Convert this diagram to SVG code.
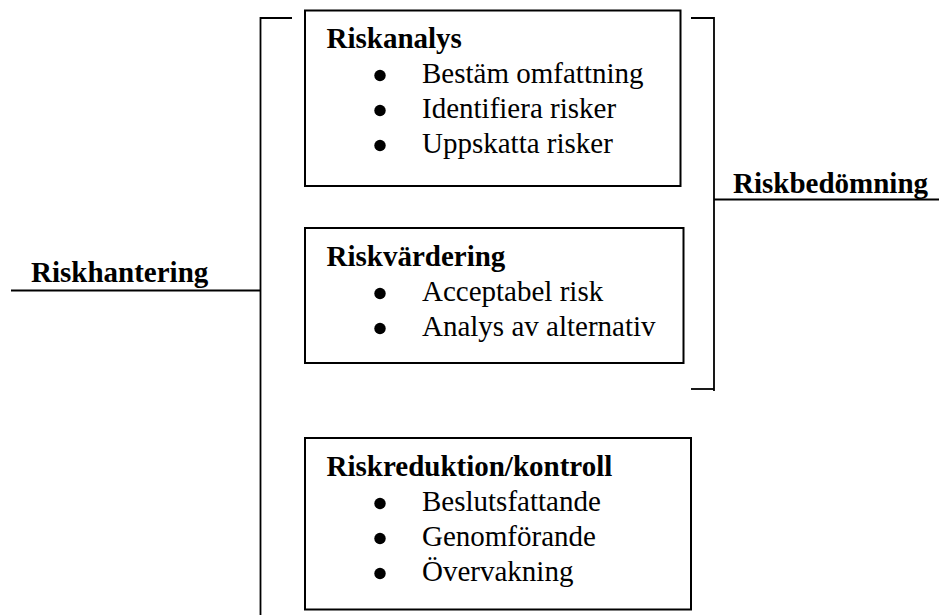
<svg xmlns="http://www.w3.org/2000/svg" width="939" height="615" viewBox="0 0 939 615">
<style>
.box{fill:#fff;stroke:#000;stroke-width:2}
.ln{fill:none;stroke:#000;stroke-width:1.8}
.h{font-family:"Liberation Serif","Times New Roman",serif;font-weight:bold;font-size:29px;fill:#000}
.t{font-family:"Liberation Serif","Times New Roman",serif;font-size:29px;fill:#000}
.b{fill:#000}
</style>
<rect width="939" height="615" fill="#fff"/>
<g id="connectors">
<polyline class="ln" points="292,18 260.5,18 260.5,615"/>
<line class="ln" x1="11" y1="290.5" x2="260.5" y2="290.5"/>
<polyline class="ln" points="691,18 714,18 714,391"/>
<line class="ln" x1="691" y1="389" x2="714" y2="389"/>
<line class="ln" x1="714" y1="199.5" x2="939" y2="199.5"/>
</g>
<g id="riskhantering">
<text class="h" x="31" y="282">Riskhantering</text>
</g>
<g id="riskbedomning">
<text class="h" x="733" y="193">Riskbedömning</text>
</g>
<g id="riskanalys">
<rect class="box" x="305" y="10.5" width="375.5" height="175.5"/>
<text class="h" x="326.5" y="48">Riskanalys</text>
<circle class="b" cx="380" cy="75.5" r="5.7"/>
<text class="t" x="422" y="83">Bestäm omfattning</text>
<circle class="b" cx="380" cy="110.5" r="5.7"/>
<text class="t" x="422" y="118">Identifiera risker</text>
<circle class="b" cx="380" cy="145.5" r="5.7"/>
<text class="t" x="422" y="153">Uppskatta risker</text>
</g>
<g id="riskvardering">
<rect class="box" x="305" y="228" width="378.5" height="135"/>
<text class="h" x="326.5" y="266">Riskvärdering</text>
<circle class="b" cx="380" cy="293.5" r="5.7"/>
<text class="t" x="422" y="301">Acceptabel risk</text>
<circle class="b" cx="380" cy="328.5" r="5.7"/>
<text class="t" x="422" y="336">Analys av alternativ</text>
</g>
<g id="riskreduktion">
<rect class="box" x="305" y="438" width="386" height="171.5"/>
<text class="h" x="326.5" y="476">Riskreduktion/kontroll</text>
<circle class="b" cx="380" cy="503.5" r="5.7"/>
<text class="t" x="422" y="511">Beslutsfattande</text>
<circle class="b" cx="380" cy="538.5" r="5.7"/>
<text class="t" x="422" y="546">Genomförande</text>
<circle class="b" cx="380" cy="573.5" r="5.7"/>
<text class="t" x="422" y="581">Övervakning</text>
</g>
</svg>
